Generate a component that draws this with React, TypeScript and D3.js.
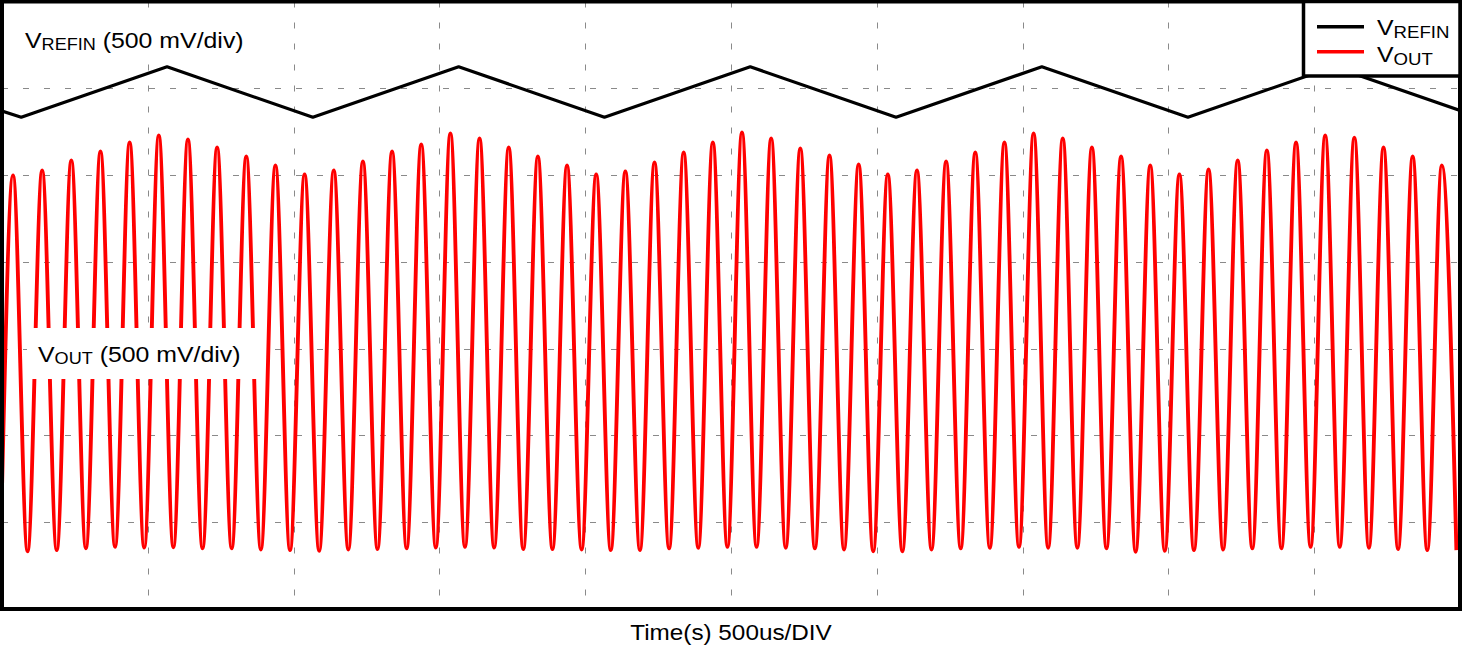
import React from "react";
import * as d3 from "d3";

// ---------- data ----------
const TIME_MAX_MS = 5; // 10 div x 500 us
const VOLT_MAX = 3.5; // 7 div x 500 mV
const timeGrid = [0.5, 1, 1.5, 2, 2.5, 3, 3.5, 4, 4.5];
const voltGrid = [0.5, 1, 1.5, 2, 2.5, 3];

// V_REFIN triangle vertices (ms, V)
const refinTimes = [0, 0.066, 0.566, 1.066, 1.566, 2.066, 2.566, 3.066, 3.566, 4.067, 4.567, 5.0];
const refinValues = [2.869, 2.833, 3.124, 2.833, 3.124, 2.833, 3.124, 2.833, 3.124, 2.833, 3.124, 2.872];

// V_OUT: value at t=0, then the crest and trough of each 100 us cycle (V)
const voutStart = 0.7;
const FIRST_PEAK_MS = 0.0377;
const HALF_CYCLE_MS = 0.05;
const voutPeaks = [
  2.498, 2.526, 2.584, 2.636, 2.688, 2.728, 2.705, 2.659, 2.607, 2.555,
  2.503, 2.526, 2.578, 2.636, 2.676, 2.74, 2.711, 2.659, 2.607, 2.555,
  2.503, 2.521, 2.572, 2.63, 2.688, 2.745, 2.711, 2.653, 2.613, 2.561,
  2.503, 2.526, 2.578, 2.63, 2.688, 2.74, 2.711, 2.659, 2.607, 2.555,
  2.503, 2.532, 2.584, 2.642, 2.688, 2.728, 2.716, 2.659, 2.607, 2.555,
];
const voutTroughs = [
  0.333, 0.339, 0.35, 0.358, 0.354, 0.356, 0.349, 0.349, 0.343, 0.339,
  0.335, 0.343, 0.345, 0.35, 0.354, 0.358, 0.354, 0.345, 0.345, 0.343,
  0.339, 0.339, 0.349, 0.353, 0.358, 0.358, 0.353, 0.349, 0.343, 0.333,
  0.333, 0.343, 0.349, 0.353, 0.358, 0.353, 0.353, 0.349, 0.33, 0.335,
  0.339, 0.343, 0.349, 0.35, 0.358, 0.358, 0.353, 0.345, 0.339, 0.339,
];

const legendItems = [
  { sub: "REFIN", color: "#000000" },
  { sub: "OUT", color: "#ff0000" },
];

// ---------- layout ----------
const W = 1462;
const H = 647;
const PLOT = { left: 2, top: 1.5, right: 1460, bottom: 609 };
const FONT = "'Liberation Sans', Arial, Helvetica, sans-serif";
const SX = 1.13;

type Pt = { t: number; v: number };

function Label(props: { x: number; y: number; sub: string; rest?: string; size?: number; subSize?: number; dy?: number }) {
  const { x, y, sub, rest, size = 22, subSize = 16, dy = 2 } = props;
  return (
    <text transform={`translate(${x},${y}) scale(${SX},1)`} fontSize={size} fontFamily={FONT} fill="#000" style={{ whiteSpace: "pre" }}>
      <tspan>V</tspan>
      <tspan fontSize={subSize} dy={dy}>{sub}</tspan>
      {rest ? <tspan dy={-dy}>{rest}</tspan> : null}
    </text>
  );
}

export default function App() {
  const x = d3.scaleLinear().domain([0, TIME_MAX_MS]).range([PLOT.left, PLOT.right]);
  const y = d3.scaleLinear().domain([0, VOLT_MAX]).range([PLOT.bottom, PLOT.top]);

  const refin: Pt[] = refinTimes.map((t, i) => ({ t, v: refinValues[i] }));
  const vout: Pt[] = [{ t: 0, v: voutStart }];
  voutPeaks.forEach((p, i) => {
    vout.push({ t: FIRST_PEAK_MS + 2 * i * HALF_CYCLE_MS, v: p });
    vout.push({ t: FIRST_PEAK_MS + (2 * i + 1) * HALF_CYCLE_MS, v: voutTroughs[i] });
  });

  const linear = d3.line<Pt>().x((d) => x(d.t)).y((d) => y(d.v)).curve(d3.curveLinear);
  const smooth = d3.line<Pt>().x((d) => x(d.t)).y((d) => y(d.v)).curve(d3.curveMonotoneX);

  const pw = PLOT.right - PLOT.left;
  const ph = PLOT.bottom - PLOT.top;

  return (
    <svg width={W} height={H} style={{ position: "absolute", left: 0, top: 0, background: "#fff" }}>
      <defs>
        <clipPath id="plotClip">
          <rect x={PLOT.left} y={PLOT.top} width={pw} height={ph} />
        </clipPath>
      </defs>
      <rect x={0} y={0} width={W} height={H} fill="#fff" />
      {/* grid */}
      <g stroke="#8a8a8a" strokeWidth={1} strokeDasharray="6 15">
        {timeGrid.map((t) => (
          <line key={"vx" + t} x1={Math.round(x(t)) + 0.5} x2={Math.round(x(t)) + 0.5} y1={PLOT.top} y2={PLOT.bottom} />
        ))}
        {voltGrid.map((v) => (
          <line key={"hy" + v} x1={PLOT.left} x2={PLOT.right} y1={Math.round(y(v)) + 0.5} y2={Math.round(y(v)) + 0.5} />
        ))}
      </g>
      {/* traces */}
      <g clipPath="url(#plotClip)" fill="none" strokeLinejoin="round">
        <path d={linear(refin) || ""} stroke="#000" strokeWidth={3.2} />
        <path d={smooth(vout) || ""} stroke="#ff0000" strokeWidth={3.9} />
      </g>
      {/* channel labels */}
      <rect x={12} y={10} width={246} height={48} fill="#fff" />
      <Label x={25} y={48} sub="REFIN" rest=" (500 mV/div)" />
      <rect x={27} y={328} width={238} height={51} fill="#fff" />
      <Label x={38} y={362} sub="OUT" rest=" (500 mV/div)" />
      {/* frame */}
      <rect x={PLOT.left} y={PLOT.top} width={pw} height={ph} fill="none" stroke="#000" strokeWidth={4} />
      {/* legend */}
      <g>
        <rect x={1303.5} y={PLOT.top} width={PLOT.right - 1303.5} height={76 - PLOT.top} fill="#fff" stroke="#000" strokeWidth={3.5} />
        {legendItems.map((it, i) => (
          <g key={it.sub}>
            <line x1={1317} x2={1364} y1={26.7 + i * 25} y2={26.7 + i * 25} stroke={it.color} strokeWidth={3.6} />
            <Label x={1377} y={35 + i * 27} sub={it.sub} subSize={16.5} dy={3} />
          </g>
        ))}
      </g>
      {/* x axis title */}
      <text
        transform={`translate(${(PLOT.left + PLOT.right) / 2},640) scale(${SX},1)`}
        textAnchor="middle"
        fontSize={21.5}
        fontFamily={FONT}
        fill="#000"
      >
        Time(s) 500us/DIV
      </text>
    </svg>
  );
}
